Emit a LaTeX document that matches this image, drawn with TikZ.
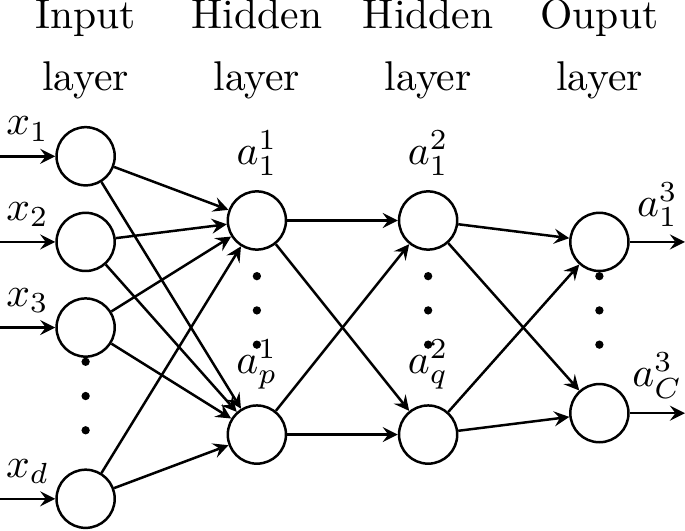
\documentclass[tikz,border=0pt]{standalone}
\begin{document}
\begin{tikzpicture}[> = stealth, % arrow head style
        x = 20.6pt, y = 20.6pt, % one unit = one row of the input layer
        node distance = 20.6pt, % distance between input nodes
        semithick % line style
    ]

    \tikzstyle{neuron}=[draw = black, circle, inner sep = 0pt,
    minimum size = 14pt]
    \tikzstyle{layername}=[anchor = base]

    \useasboundingbox (-1,-4.367) rectangle (7,1.825);

    % layer names
    \node (n0) [layername] at (0,1.487) {Input}; \node (l0) [layername] at (0,0.764) {layer};
    \node (n1) [layername] at (2,1.487) {Hidden}; \node (l1) [layername] at (2,0.764) {layer};
    \node (n2) [layername] at (4,1.487) {Hidden}; \node (l2) [layername] at (4,0.764) {layer};
    \node (n3) [layername] at (6,1.487) {Ouput}; \node (l3) [layername] at (6,0.764) {layer};

    % neurons
    \node (x1) [neuron] at (0,0) {}; \node (x2) [neuron, below of=x1] {};
    \node (x3) [neuron, below of=x2] {}; \node (xd) [neuron] at (0,-4) {};

    \node (a1) [neuron, label=above:$a_1^1$] at (2,-0.75) {};
    \node (ap) [neuron, label=above:$a_p^1$] at (2,-3.25) {};
    \node (b1) [neuron, label=above:$a_1^2$] at (4,-0.75) {};
    \node (bq) [neuron, label=above:$a_q^2$] at (4,-3.25) {};
    \node (c1) [neuron] at (6,-1) {}; \node (cC) [neuron] at (6,-3) {};

    % free ends of the inputs and outputs
    \coordinate (s1) at (-1,0); \coordinate (s2) at (-1,-1);
    \coordinate (s3) at (-1,-2); \coordinate (sd) at (-1,-4);
    \coordinate (e1) at (7,-1); \coordinate (eC) at (7,-3);

    \draw[->] (s1) -- node[above] (t1) {$x_1$} (x1);
    \draw[->] (s2) -- node[above] (t2) {$x_2$} (x2);
    \draw[->] (s3) -- node[above] (t3) {$x_3$} (x3);
    \draw[->] (sd) -- node[above] (td) {$x_d$} (xd);
    \draw[->] (c1) -- node[above] (u1) {$a_1^3$} (e1);
    \draw[->] (cC) -- node[above] (uC) {$a_C^3$} (eC);

    \path[->] (x1) edge (a1) edge (ap); \path[->] (x2) edge (a1) edge (ap);
    \path[->] (x3) edge (a1) edge (ap); \path[->] (xd) edge (a1) edge (ap);
    \path[->] (a1) edge (b1) edge (bq); \path[->] (ap) edge (b1) edge (bq);
    \path[->] (b1) edge (c1) edge (cC); \path[->] (bq) edge (c1) edge (cC);

    % dots
    \fill (0,-2.4) circle (1pt) (0,-2.8) circle (1pt) (0,-3.2) circle (1pt);
    \fill (2,-1.4) circle (1pt) (2,-1.8) circle (1pt) (2,-2.2) circle (1pt);
    \fill (4,-1.4) circle (1pt) (4,-1.8) circle (1pt) (4,-2.2) circle (1pt);
    \fill (6,-1.4) circle (1pt) (6,-1.8) circle (1pt) (6,-2.2) circle (1pt);

\end{tikzpicture}
\end{document}
